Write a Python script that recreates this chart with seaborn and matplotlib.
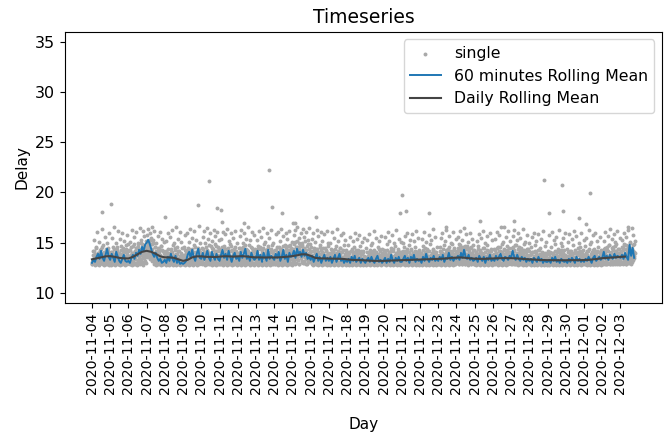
#!/usr/bin/env python3
"""
Timeseries of delay: single measurements, 60 minutes and daily rolling mean
"""

import pandas as pd
import matplotlib
matplotlib.use('Agg')
import matplotlib.pyplot as plt
import matplotlib.dates as mdates
import seaborn as sns

plt.rcParams['xtick.labelsize'] = 10.2
plt.rcParams['ytick.labelsize'] = 11.5
plt.rcParams['axes.labelsize'] = 11
plt.rcParams['axes.titlesize'] = 13.5
plt.rcParams['legend.fontsize'] = 11.3

START = '2020-11-04'

# single measurements at :00 slots (one every 36 minutes, one row per day)
single_delay = [
    13.1, 12.9, 13.4, 14.2, 13.0, 15.3, 13.6, 12.9, 13.8, 14.6, 13.2, 16.1, 13.0, 13.5, 14.0, 12.9, 15.1, 13.3, 13.7, 14.4, 13.0, 16.4, 13.2, 13.9, 12.9, 14.8, 13.4, 13.1, 15.6, 13.6, 14.1, 12.9, 13.3, 15.0, 13.8, 13.0, 14.5, 13.2, 16.0, 13.5,
    13.4, 12.9, 14.1, 13.2, 15.5, 13.0, 13.7, 14.6, 12.9, 16.6, 13.3, 13.9, 13.1, 15.0, 14.3, 13.0, 13.6, 16.2, 12.9, 14.0, 13.4, 15.4, 13.1, 13.8, 14.7, 12.9, 13.5, 16.0, 13.2, 14.2, 13.0, 15.2, 13.6, 12.9, 14.4, 13.3, 15.8, 13.1, 13.9, 14.9,
    13.0, 14.3, 13.5, 12.9, 15.1, 13.8, 13.2, 16.3, 14.0, 13.1, 14.7, 13.6, 12.9, 15.6, 13.4, 14.2, 13.0, 16.1, 13.9, 14.5, 13.3, 15.0, 12.9, 14.1, 13.7, 16.5, 14.4, 13.2, 15.3, 13.8, 14.9, 13.5, 16.2, 14.0, 13.1, 15.7, 14.6, 13.6, 15.2, 14.3,
    14.5, 15.8, 13.9, 16.4, 14.8, 15.2, 13.6, 16.0, 14.2, 15.5, 13.8, 14.9, 16.6, 14.0, 13.4, 15.3, 13.7, 16.2, 13.2, 14.6, 12.9, 15.0, 13.5, 14.1, 13.0, 15.7, 13.3, 14.4, 12.9, 13.8, 16.1, 13.1, 14.7, 13.0, 15.4, 13.6, 12.9, 14.2, 13.2, 15.1,
    13.1, 14.0, 12.9, 15.2, 13.5, 13.0, 16.0, 13.8, 14.4, 12.9, 13.3, 15.6, 13.7, 14.1, 13.0, 16.3, 13.2, 14.8, 12.9, 13.6, 15.0, 13.4, 14.3, 13.0, 16.6, 13.9, 12.9, 14.6, 13.2, 15.4, 13.5, 13.0, 14.2, 16.1, 13.3, 12.9, 15.1, 13.7, 14.5, 13.1,
    12.9, 13.4, 14.6, 13.0, 15.8, 13.6, 12.9, 14.2, 13.2, 16.0, 13.9, 13.0, 15.1, 13.5, 14.4, 12.9, 16.4, 13.3, 14.0, 13.1, 15.5, 13.7, 12.9, 14.8, 13.4, 16.2, 13.0, 14.1, 13.6, 15.3, 12.9, 13.8, 14.5, 13.2, 16.7, 13.5, 14.3, 13.0, 15.0, 13.7,
    13.2, 14.5, 13.0, 15.6, 13.8, 12.9, 16.2, 14.1, 13.4, 15.0, 12.9, 13.7, 16.5, 14.3, 13.1, 15.4, 13.6, 14.0, 12.9, 16.0, 13.5, 14.7, 13.0, 15.2, 13.9, 12.9, 14.4, 16.3, 13.3, 14.9, 13.6, 15.7, 13.0, 14.2, 13.8, 16.1, 13.4, 14.6, 12.9, 15.3,
    13.3, 12.9, 14.2, 13.6, 15.4, 13.0, 14.0, 16.1, 13.2, 12.9, 14.7, 13.5, 15.9, 13.1, 13.8, 14.4, 12.9, 16.4, 13.4, 14.1, 13.0, 15.2, 13.7, 12.9, 14.9, 13.3, 16.0, 13.6, 14.3, 13.0, 15.5, 13.9, 12.9, 14.6, 13.2, 16.2, 13.5, 14.0, 13.1, 15.0,
    13.0, 13.7, 14.5, 12.9, 15.7, 13.3, 14.1, 13.0, 16.3, 13.6, 12.9, 15.0, 14.2, 13.4, 16.0, 13.1, 14.8, 12.9, 13.8, 15.4, 13.2, 14.3, 13.0, 16.6, 13.5, 14.0, 12.9, 15.3, 13.9, 13.1, 14.6, 16.1, 13.4, 12.9, 14.2, 13.7, 15.8, 13.0, 14.4, 13.3,
    13.2, 14.1, 12.9, 15.3, 13.6, 14.7, 13.0, 16.2, 13.4, 12.9, 14.4, 13.8, 15.6, 13.1, 14.0, 12.9, 16.5, 13.5, 14.9, 13.2, 15.1, 13.7, 12.9, 14.3, 13.0, 16.0, 13.9, 14.5, 13.3, 15.5, 12.9, 13.6, 14.2, 16.3, 13.1, 14.8, 13.4, 12.9, 15.0, 13.8,
    13.4, 12.9, 14.3, 13.1, 15.9, 13.7, 14.0, 12.9, 16.1, 13.3, 14.6, 13.0, 15.2, 13.8, 12.9, 14.4, 16.4, 13.5, 14.1, 13.2, 15.7, 12.9, 13.9, 14.8, 13.0, 16.0, 13.6, 14.2, 12.9, 15.4, 13.3, 14.7, 13.1, 16.2, 13.7, 12.9, 14.5, 13.4, 15.1, 13.0,
    13.6, 14.4, 13.1, 15.8, 14.0, 12.9, 16.3, 14.6, 13.5, 15.2, 13.9, 16.6, 14.2, 13.3, 15.5, 12.9, 14.8, 13.7, 16.0, 14.1, 13.2, 15.0, 13.8, 16.4, 14.5, 13.0, 15.6, 13.6, 14.3, 12.9, 16.1, 13.9, 14.7, 13.4, 15.3, 13.1, 14.0, 16.5, 13.5, 14.9,
    13.3, 14.6, 13.0, 15.4, 13.8, 12.9, 16.0, 14.2, 13.5, 15.1, 13.1, 14.0, 12.9, 16.3, 13.6, 14.4, 13.2, 15.7, 12.9, 13.9, 14.8, 13.0, 16.1, 13.4, 14.1, 12.9, 15.2, 13.7, 14.5, 13.1, 15.9, 13.3, 12.9, 14.3, 13.6, 16.2, 13.0, 14.7, 13.4, 15.0,
    13.1, 13.8, 12.9, 15.0, 13.4, 14.4, 13.0, 16.1, 13.6, 12.9, 14.2, 13.2, 15.5, 13.9, 12.9, 14.7, 13.3, 16.4, 13.0, 14.0, 13.5, 15.2, 12.9, 13.7, 14.5, 13.1, 15.8, 13.4, 12.9, 14.1, 13.6, 16.0, 13.0, 14.8, 13.2, 15.3, 12.9, 13.9, 14.3, 13.5,
    13.0, 13.6, 12.9, 14.8, 13.3, 14.1, 12.9, 15.6, 13.5, 13.0, 14.4, 13.2, 15.2, 12.9, 13.8, 14.6, 13.1, 16.0, 13.4, 12.9, 14.0, 13.7, 15.4, 13.0, 14.3, 12.9, 13.5, 15.8, 13.2, 14.7, 13.0, 13.9, 15.1, 12.9, 13.4, 14.2, 13.1, 15.5, 13.6, 12.9,
    12.9, 13.4, 14.5, 13.0, 15.3, 13.7, 12.9, 14.1, 13.2, 15.9, 13.5, 12.9, 14.8, 13.1, 13.9, 15.0, 12.9, 13.6, 14.3, 13.0, 16.2, 13.3, 14.0, 12.9, 15.5, 13.8, 13.1, 14.6, 12.9, 13.4, 15.2, 13.0, 14.2, 13.6, 12.9, 15.7, 13.2, 14.4, 13.0, 13.8,
    13.2, 12.9, 14.3, 13.5, 15.6, 13.0, 13.8, 14.9, 12.9, 16.1, 13.3, 14.0, 13.1, 15.2, 12.9, 13.7, 14.5, 13.0, 15.8, 13.4, 12.9, 14.2, 13.6, 15.0, 13.1, 12.9, 14.7, 13.3, 16.3, 13.0, 13.9, 14.4, 12.9, 15.4, 13.5, 13.2, 14.1, 12.9, 15.1, 13.7,
    13.0, 13.9, 12.9, 15.0, 13.4, 14.6, 13.1, 15.7, 12.9, 13.6, 14.2, 13.0, 16.0, 13.5, 12.9, 14.8, 13.2, 15.3, 13.8, 12.9, 14.4, 13.1, 15.9, 13.4, 14.0, 12.9, 15.2, 13.7, 13.0, 14.6, 12.9, 16.2, 13.3, 14.1, 13.0, 15.5, 13.6, 12.9, 14.3, 13.2,
    13.3, 12.9, 14.0, 13.6, 15.4, 13.1, 12.9, 14.7, 13.4, 16.1, 13.0, 13.8, 14.5, 12.9, 15.1, 13.5, 13.2, 14.2, 12.9, 15.8, 13.7, 13.0, 14.9, 13.3, 12.9, 15.3, 13.9, 13.1, 14.4, 16.4, 13.0, 13.5, 12.9, 14.1, 15.6, 13.2, 13.8, 12.9, 14.6, 13.4,
    13.1, 13.7, 12.9, 14.6, 13.3, 15.5, 13.0, 14.1, 12.9, 16.0, 13.6, 13.2, 14.8, 12.9, 15.2, 13.4, 14.0, 13.0, 16.3, 13.8, 12.9, 14.4, 13.5, 15.7, 13.1, 12.9, 14.2, 13.7, 15.0, 13.3, 12.9, 14.9, 13.6, 16.1, 13.0, 14.3, 13.2, 12.9, 15.4, 13.9,
    13.4, 14.2, 13.0, 15.6, 13.8, 12.9, 14.9, 13.5, 16.2, 13.1, 14.5, 13.7, 12.9, 15.3, 13.3, 14.0, 16.5, 13.6, 12.9, 14.7, 13.2, 15.9, 13.9, 13.0, 14.4, 12.9, 15.1, 13.5, 14.1, 13.1, 16.0, 13.8, 12.9, 14.6, 13.4, 15.4, 13.0, 14.3, 13.7, 12.9,
    13.2, 12.9, 14.1, 13.5, 15.2, 13.0, 13.8, 14.7, 12.9, 15.9, 13.3, 14.3, 13.1, 12.9, 15.5, 13.6, 14.0, 13.0, 16.2, 13.4, 12.9, 14.5, 13.7, 15.0, 13.1, 12.9, 14.8, 13.3, 15.7, 13.0, 13.9, 14.2, 12.9, 16.0, 13.5, 13.2, 14.4, 12.9, 15.3, 13.6,
    13.0, 13.6, 14.4, 12.9, 15.4, 13.3, 14.0, 13.1, 16.1, 12.9, 13.8, 14.6, 13.2, 15.8, 13.5, 12.9, 14.2, 13.0, 16.6, 13.7, 14.9, 13.4, 12.9, 15.1, 13.1, 14.3, 13.6, 12.9, 15.6, 13.9, 13.2, 14.7, 12.9, 16.2, 13.4, 14.1, 13.0, 15.2, 13.7, 12.9,
    13.3, 14.5, 12.9, 15.7, 13.6, 13.1, 14.2, 16.3, 13.4, 12.9, 14.8, 13.8, 15.3, 13.0, 14.0, 12.9, 16.0, 13.5, 14.6, 13.2, 15.5, 12.9, 13.7, 14.3, 13.1, 16.4, 13.9, 12.9, 14.9, 13.4, 15.1, 13.0, 14.1, 13.6, 12.9, 15.8, 13.3, 14.4, 13.0, 15.0,
    13.1, 12.9, 13.8, 14.6, 13.2, 15.6, 12.9, 13.5, 14.1, 13.0, 16.0, 13.4, 12.9, 14.8, 13.7, 15.2, 13.1, 12.9, 14.3, 13.5, 15.9, 13.0, 13.8, 12.9, 14.5, 13.3, 15.4, 13.0, 12.9, 14.0, 13.6, 16.2, 13.2, 12.9, 14.7, 13.4, 15.1, 13.0, 13.9, 12.9,
    12.9, 13.5, 14.2, 13.0, 15.8, 13.3, 12.9, 14.6, 13.6, 16.1, 13.1, 12.9, 14.0, 13.8, 15.3, 13.0, 12.9, 14.9, 13.4, 15.6, 13.2, 12.9, 14.4, 13.7, 16.3, 13.0, 12.9, 14.1, 13.5, 15.0, 13.1, 12.9, 14.7, 13.3, 15.5, 12.9, 13.8, 14.3, 13.0, 16.0,
    13.2, 12.9, 14.4, 13.5, 15.1, 13.0, 13.7, 12.9, 15.9, 13.3, 14.2, 13.1, 12.9, 15.4, 13.6, 14.8, 13.0, 12.9, 16.2, 13.4, 14.0, 13.2, 12.9, 15.7, 13.8, 13.0, 14.5, 12.9, 15.0, 13.3, 13.9, 12.9, 14.6, 13.5, 16.0, 13.1, 12.9, 14.3, 13.7, 15.3,
    13.0, 13.8, 12.9, 14.7, 13.4, 15.5, 13.1, 12.9, 14.2, 13.6, 16.3, 13.2, 12.9, 14.9, 13.5, 15.1, 13.0, 14.0, 12.9, 15.8, 13.7, 13.1, 14.4, 12.9, 16.0, 13.3, 14.1, 13.0, 12.9, 15.2, 13.6, 14.6, 13.2, 12.9, 15.6, 13.4, 13.9, 13.0, 14.3, 12.9,
    13.3, 14.0, 12.9, 15.2, 13.6, 14.5, 13.1, 16.1, 13.8, 12.9, 14.3, 13.4, 15.7, 13.0, 14.8, 13.5, 12.9, 16.4, 13.9, 14.1, 13.2, 15.4, 12.9, 14.6, 13.7, 15.9, 13.1, 14.2, 12.9, 15.1, 13.5, 14.9, 13.3, 16.2, 13.0, 14.4, 13.8, 12.9, 15.5, 14.0,
    13.4, 14.2, 13.0, 15.3, 13.7, 12.9, 14.6, 13.2, 16.0, 13.9, 13.1, 14.8, 12.9, 15.6, 13.5, 14.3, 13.0, 16.3, 13.8, 14.5, 13.2, 15.1, 12.9, 14.0, 13.6, 16.5, 14.4, 13.3, 15.8, 14.1, 13.5, 15.2,
]

# single measurements at :18 slots (one every 36 minutes, one row per day)
single_delay_b = [
    12.9, 13.3, 13.8, 13.0, 14.2, 13.5, 12.8, 13.9, 13.2, 14.5, 13.6, 12.9, 13.4, 14.0, 13.1, 13.7, 12.8, 14.3, 13.5, 13.0, 13.8, 14.6, 13.2, 12.9, 13.6, 14.1, 13.3, 12.8, 13.9, 13.4, 14.4, 13.0, 13.7, 12.9, 14.2, 13.5, 13.1, 13.8, 12.8, 14.0,
    13.2, 12.8, 13.6, 14.1, 13.0, 13.9, 12.9, 14.4, 13.4, 13.1, 13.7, 12.8, 14.2, 13.5, 13.0, 14.6, 13.3, 12.9, 13.8, 14.0, 13.1, 12.8, 13.6, 14.3, 13.2, 13.9, 12.9, 13.5, 14.5, 13.0, 13.7, 12.8, 14.1, 13.4, 13.2, 14.8, 12.9, 13.6, 13.0, 14.2,
    13.0, 13.7, 14.3, 12.9, 13.5, 14.6, 13.2, 12.8, 14.0, 13.8, 13.1, 14.9, 13.4, 12.9, 14.2, 13.6, 13.0, 14.5, 13.9, 12.8, 13.3, 14.7, 13.6, 13.1, 14.1, 12.9, 13.8, 15.0, 13.4, 13.0, 14.4, 13.7, 12.8, 14.8, 13.5, 13.2, 14.2, 13.9, 13.0, 14.6,
    14.2, 13.6, 14.8, 15.1, 13.9, 14.5, 13.4, 15.3, 14.1, 13.7, 14.9, 13.2, 14.4, 15.0, 13.5, 14.0, 12.9, 14.6, 13.3, 13.8, 12.8, 14.2, 13.6, 13.1, 14.5, 12.9, 13.7, 14.1, 13.0, 13.4, 14.7, 12.8, 13.6, 13.2, 14.3, 12.9, 13.5, 14.0, 13.1, 13.8,
    13.2, 12.8, 13.7, 14.2, 13.0, 13.5, 12.9, 14.0, 13.3, 12.8, 13.9, 13.1, 14.4, 12.9, 13.6, 13.0, 14.1, 12.8, 13.4, 13.8, 12.9, 13.2, 14.5, 13.0, 13.6, 12.8, 13.9, 13.3, 14.2, 12.9, 13.5, 13.1, 12.8, 13.7, 14.0, 13.2, 12.9, 13.4, 13.8, 13.0,
    12.9, 13.1, 13.8, 12.8, 14.3, 13.4, 13.0, 14.0, 12.9, 13.6, 14.5, 13.2, 12.8, 13.9, 13.5, 14.2, 13.0, 12.9, 13.7, 14.4, 13.3, 12.8, 14.1, 13.6, 13.0, 14.6, 13.2, 12.9, 13.8, 14.0, 13.4, 12.8, 13.5, 14.3, 13.1, 12.9, 13.9, 14.1, 13.3, 13.6,
    13.3, 13.9, 12.9, 14.4, 13.5, 13.0, 14.1, 13.7, 12.8, 14.6, 13.2, 13.8, 12.9, 14.2, 13.4, 13.0, 14.8, 13.6, 12.9, 14.0, 13.3, 13.9, 12.8, 14.5, 13.1, 13.7, 14.3, 12.9, 13.5, 14.0, 13.2, 12.8, 14.7, 13.6, 13.0, 14.2, 13.4, 12.9, 13.8, 14.4,
    13.1, 13.6, 14.3, 12.9, 13.9, 13.4, 14.6, 13.0, 12.8, 14.1, 13.7, 13.2, 14.4, 12.9, 13.5, 14.0, 13.1, 12.8, 14.5, 13.8, 13.3, 12.9, 14.2, 13.6, 13.0, 14.7, 13.4, 12.8, 13.9, 14.1, 13.2, 12.9, 14.4, 13.7, 13.0, 13.5, 14.2, 12.8, 13.8, 13.3,
    13.4, 12.9, 14.0, 13.6, 14.5, 13.1, 12.8, 13.8, 14.3, 13.2, 12.9, 14.6, 13.5, 13.0, 14.1, 13.7, 12.8, 14.4, 13.3, 13.9, 12.9, 14.2, 13.6, 13.1, 14.8, 13.4, 12.8, 13.7, 14.0, 13.2, 12.9, 14.5, 13.8, 13.0, 14.3, 13.5, 12.8, 14.1, 13.6, 13.1,
    13.0, 13.5, 14.1, 12.8, 13.8, 14.4, 13.2, 12.9, 13.7, 14.6, 13.4, 13.0, 14.2, 12.8, 13.6, 13.9, 14.5, 13.1, 12.9, 14.0, 13.5, 12.8, 14.3, 13.7, 13.2, 12.9, 14.7, 13.4, 13.0, 13.8, 14.1, 12.8, 13.6, 14.4, 13.3, 12.9, 13.9, 14.2, 13.1, 13.5,
    13.2, 13.8, 12.9, 14.3, 13.5, 13.0, 14.6, 13.7, 12.8, 14.0, 13.4, 13.1, 14.4, 12.9, 13.6, 14.1, 13.2, 12.8, 14.7, 13.9, 13.0, 14.2, 13.5, 12.9, 13.8, 14.5, 13.3, 12.8, 14.0, 13.6, 13.1, 14.3, 12.9, 13.7, 14.8, 13.4, 13.0, 14.1, 12.8, 13.5,
    13.7, 14.3, 13.2, 14.9, 13.9, 13.4, 15.1, 14.1, 13.0, 14.6, 13.6, 14.0, 13.3, 15.0, 14.4, 12.9, 13.8, 14.7, 13.5, 14.2, 13.1, 14.8, 13.7, 13.0, 14.5, 13.9, 13.2, 15.2, 14.0, 13.4, 14.3, 12.9, 13.6, 14.9, 13.8, 13.1, 14.4, 13.5, 14.1, 13.3,
    13.1, 13.7, 12.9, 14.2, 13.4, 12.8, 14.5, 13.6, 13.0, 14.0, 13.3, 12.9, 14.4, 13.8, 13.1, 12.8, 14.1, 13.5, 13.0, 14.6, 13.2, 12.9, 13.9, 14.3, 13.4, 12.8, 13.7, 14.0, 13.1, 12.9, 14.5, 13.6, 13.0, 13.8, 14.2, 12.8, 13.3, 14.0, 13.5, 12.9,
    13.0, 13.5, 14.0, 12.8, 13.8, 13.2, 14.3, 12.9, 13.6, 14.1, 13.0, 12.8, 13.9, 14.4, 13.3, 12.9, 13.7, 14.0, 13.1, 12.8, 14.2, 13.5, 13.0, 13.8, 14.5, 12.9, 13.4, 14.1, 13.2, 12.8, 13.6, 14.3, 13.0, 12.9, 13.9, 13.4, 14.0, 12.8, 13.7, 13.2,
    12.9, 13.3, 13.8, 12.8, 14.0, 13.2, 13.6, 12.9, 14.2, 13.0, 13.5, 12.8, 13.9, 13.3, 14.1, 12.9, 13.1, 13.7, 12.8, 14.3, 13.4, 13.0, 13.8, 12.9, 13.5, 14.0, 13.1, 12.8, 13.6, 14.2, 13.2, 12.9, 13.9, 13.4, 12.8, 14.1, 13.0, 13.7, 12.9, 13.3,
    13.1, 12.8, 13.6, 14.1, 13.0, 13.4, 12.9, 13.9, 13.2, 14.3, 12.8, 13.5, 13.0, 14.0, 13.7, 12.9, 13.3, 14.2, 13.1, 12.8, 13.8, 13.4, 12.9, 14.1, 13.6, 13.0, 12.8, 13.9, 13.2, 14.4, 12.9, 13.5, 13.1, 13.8, 12.8, 14.0, 13.3, 12.9, 13.6, 13.0,
    13.0, 13.5, 12.9, 14.0, 13.3, 12.8, 13.8, 14.3, 13.1, 12.9, 13.6, 14.1, 13.0, 12.8, 13.9, 13.4, 14.2, 12.9, 13.2, 13.7, 12.8, 14.4, 13.5, 13.0, 12.9, 13.8, 14.0, 13.3, 12.8, 13.6, 13.1, 14.2, 12.9, 13.4, 13.9, 12.8, 13.2, 14.1, 13.5, 13.0,
    13.2, 12.9, 13.7, 14.2, 13.0, 13.5, 12.8, 14.0, 13.3, 13.9, 12.9, 14.4, 13.1, 13.6, 12.8, 14.1, 13.4, 13.0, 13.8, 12.9, 14.3, 13.2, 12.8, 13.7, 14.0, 13.1, 12.9, 13.5, 14.2, 13.3, 12.8, 13.9, 13.0, 14.1, 13.6, 12.9, 13.4, 13.8, 12.8, 14.0,
    12.9, 13.4, 14.0, 13.1, 12.8, 13.8, 14.3, 13.2, 12.9, 13.6, 14.1, 13.0, 12.8, 13.9, 13.4, 14.4, 12.9, 13.3, 13.7, 12.8, 14.2, 13.5, 13.0, 12.9, 13.8, 14.0, 13.2, 12.8, 13.6, 14.3, 13.1, 12.9, 13.9, 13.4, 12.8, 14.1, 13.0, 13.7, 13.3, 12.9,
    13.3, 13.8, 12.9, 14.2, 13.5, 13.0, 12.8, 14.0, 13.6, 13.2, 14.4, 12.9, 13.4, 13.9, 13.1, 12.8, 14.3, 13.7, 13.0, 12.9, 14.1, 13.5, 13.2, 14.6, 12.8, 13.8, 13.3, 14.0, 12.9, 13.6, 14.2, 13.1, 12.8, 13.9, 13.4, 14.5, 13.0, 12.9, 13.7, 14.1,
    13.4, 14.0, 13.1, 14.5, 13.7, 12.9, 14.2, 13.5, 14.8, 13.2, 13.9, 14.3, 12.9, 13.6, 14.6, 13.3, 13.0, 14.1, 13.8, 12.9, 14.4, 13.5, 13.1, 14.7, 13.9, 12.8, 13.6, 14.2, 13.4, 13.0, 14.5, 13.7, 12.9, 14.0, 13.3, 14.8, 13.2, 13.8, 12.9, 14.3,
    13.1, 13.6, 12.8, 14.1, 13.4, 13.0, 13.9, 14.4, 12.9, 13.5, 13.2, 14.2, 12.8, 13.7, 14.0, 13.3, 12.9, 13.8, 14.5, 13.1, 12.8, 13.6, 14.1, 13.0, 13.4, 12.9, 14.3, 13.7, 13.2, 12.8, 13.9, 14.0, 13.1, 12.9, 13.5, 14.2, 13.3, 12.8, 13.8, 13.4,
    13.2, 13.9, 13.0, 14.3, 13.5, 12.9, 14.0, 13.7, 13.1, 14.5, 12.8, 13.6, 14.2, 13.3, 12.9, 13.8, 14.6, 13.0, 13.5, 12.8, 14.1, 13.4, 13.9, 12.9, 14.4, 13.2, 13.7, 13.0, 14.0, 12.8, 13.6, 14.3, 13.1, 12.9, 13.8, 14.5, 13.4, 13.0, 14.1, 13.3,
    13.4, 14.1, 13.0, 14.6, 13.6, 12.9, 14.3, 13.8, 13.2, 14.8, 12.9, 13.5, 14.0, 13.3, 12.8, 14.4, 13.7, 13.0, 14.2, 13.4, 12.9, 13.9, 14.5, 13.1, 13.6, 12.8, 14.0, 13.3, 14.3, 12.9, 13.7, 14.1, 13.2, 12.8, 13.8, 14.4, 13.0, 13.5, 12.9, 14.2,
    13.0, 13.4, 12.8, 13.9, 13.2, 12.9, 14.1, 13.5, 13.0, 12.8, 13.7, 14.2, 13.1, 12.9, 13.6, 14.0, 13.3, 12.8, 13.8, 13.0, 14.3, 12.9, 13.4, 13.9, 13.1, 12.8, 13.6, 14.1, 13.2, 12.9, 13.7, 13.0, 12.8, 14.0, 13.5, 13.1, 12.9, 13.8, 13.3, 12.8,
    12.9, 13.3, 13.9, 12.8, 13.6, 14.1, 13.0, 12.9, 13.5, 13.2, 14.0, 12.8, 13.7, 13.1, 12.9, 14.2, 13.4, 13.0, 12.8, 13.8, 13.3, 14.1, 12.9, 13.6, 13.0, 12.8, 13.9, 13.4, 14.3, 12.9, 13.2, 13.7, 12.8, 14.0, 13.5, 13.0, 12.9, 13.8, 13.2, 13.6,
    13.1, 12.8, 13.7, 13.3, 14.1, 12.9, 13.5, 13.0, 13.9, 12.8, 14.2, 13.4, 13.1, 12.9, 13.8, 14.0, 13.2, 12.8, 13.6, 13.0, 14.3, 12.9, 13.5, 13.9, 13.1, 12.8, 14.1, 13.3, 13.0, 12.9, 13.7, 14.2, 13.4, 12.8, 13.6, 13.1, 14.0, 12.9, 13.3, 13.8,
    13.0, 13.5, 12.9, 14.0, 13.3, 12.8, 13.8, 14.2, 13.1, 12.9, 13.6, 14.4, 13.2, 12.8, 13.9, 13.4, 14.1, 12.9, 13.0, 13.7, 14.3, 12.8, 13.5, 13.1, 14.0, 12.9, 13.8, 13.3, 12.8, 14.2, 13.6, 13.0, 12.9, 14.1, 13.4, 13.7, 12.8, 13.2, 14.0, 13.5,
    13.3, 13.9, 13.0, 14.4, 13.6, 12.9, 14.1, 13.8, 13.2, 14.6, 12.9, 13.5, 14.2, 13.4, 13.0, 14.8, 13.7, 12.9, 14.0, 13.5, 14.5, 13.1, 13.8, 12.9, 14.3, 13.6, 13.2, 14.7, 13.0, 13.9, 14.2, 12.9, 13.4, 14.0, 13.7, 13.1, 14.4, 13.3, 12.9, 13.8,
    13.5, 14.1, 13.1, 14.6, 13.8, 13.0, 14.3, 13.4, 14.9, 13.2, 13.7, 14.4, 12.9, 13.9, 14.2, 13.3, 14.7, 13.6, 13.0, 14.1, 13.8, 15.0, 13.4, 14.5, 13.1, 13.9, 14.8, 13.5, 14.2, 13.7, 14.9, 14.0,
]

# isolated high single measurements (days after start, delay)
outlier_day = [0.56, 1.04, 4.0, 5.83, 6.4, 6.84, 7.07, 7.14, 8.32, 9.7, 9.86,
               10.45, 11.05, 11.15, 12.32, 16.9, 17.03, 17.25, 18.5, 19.4,
               21.3, 22.6, 23.15, 24.8, 25.1, 25.8, 25.85, 26.7, 27.1, 27.34, 29.4]
outlier_delay = [18.1, 18.9, 17.6, 18.8, 21.1, 18.5, 18.3, 17.1, 17.0, 22.2, 18.6,
                 18.0, 17.0, 17.0, 17.6, 18.0, 19.8, 18.2, 18.0, 16.6,
                 17.2, 16.6, 17.2, 21.2, 18.0, 20.7, 18.2, 17.5, 16.9, 19.9, 16.6]

# 60 minutes rolling mean (sampled every 2 hours)
hourly_mean = [
    13.0, 13.3, 13.1, 13.6, 13.9, 13.4, 14.2, 13.5, 13.2, 13.8, 14.4, 13.6,
    13.3, 13.9, 13.5, 13.1, 14.1, 13.6, 13.2, 13.0, 13.4, 13.8, 13.2, 13.1,
    13.2, 13.0, 13.5, 13.8, 13.4, 14.0, 13.7, 14.3, 13.9, 14.6, 14.2, 14.8,
    15.0, 15.3, 14.9, 14.4, 13.9, 13.6, 14.0, 13.5, 13.2, 13.4, 13.0, 13.1,
    13.3, 13.0, 13.6, 13.2, 13.9, 13.4, 13.1, 13.7, 13.0, 13.3, 12.9, 13.0,
    12.9, 13.0, 13.2, 13.8, 14.1, 13.5, 14.3, 13.6, 13.2, 13.9, 14.4, 13.5,
    13.4, 14.0, 13.3, 13.7, 14.2, 13.5, 13.2, 14.1, 13.6, 13.3, 13.9, 13.4,
    13.2, 13.8, 14.3, 13.5, 13.9, 13.3, 14.2, 13.6, 13.1, 13.7, 14.0, 13.4,
    13.6, 13.2, 14.1, 13.5, 13.9, 14.4, 13.4, 13.7, 13.2, 14.0, 13.5, 13.3,
    13.5, 14.2, 13.3, 13.8, 13.1, 14.0, 13.6, 13.2, 14.3, 13.4, 13.7, 13.5,
    13.3, 13.9, 13.5, 14.1, 13.2, 13.6, 14.3, 13.4, 13.8, 13.1, 14.0, 13.6,
    13.8, 14.2, 13.5, 14.4, 13.9, 14.1, 13.6, 14.3, 13.7, 14.0, 13.4, 13.6,
    13.3, 13.7, 13.1, 13.5, 13.9, 13.2, 13.6, 13.0, 13.4, 13.8, 13.2, 13.5,
    13.2, 13.6, 13.0, 13.4, 13.8, 13.1, 13.5, 13.9, 13.2, 13.4, 13.0, 13.3,
    13.1, 13.4, 13.0, 13.6, 13.2, 13.7, 13.1, 13.3, 13.5, 13.0, 13.4, 13.2,
    13.0, 13.3, 13.5, 13.1, 13.6, 13.2, 13.0, 13.4, 13.7, 13.1, 13.3, 13.0,
    13.2, 13.5, 13.0, 13.4, 13.1, 13.8, 13.3, 13.0, 13.5, 13.2, 13.6, 13.1,
    13.1, 13.4, 13.7, 13.2, 13.5, 13.0, 13.6, 13.3, 13.8, 13.1, 13.4, 13.2,
    13.3, 13.0, 13.6, 13.2, 13.9, 13.4, 13.1, 13.5, 13.3, 13.7, 13.2, 13.4,
    13.2, 13.6, 13.3, 13.8, 13.1, 13.5, 13.4, 14.0, 13.3, 13.6, 13.2, 13.5,
    13.4, 13.7, 13.3, 14.0, 13.5, 14.3, 13.6, 13.4, 13.8, 13.3, 13.5, 13.2,
    13.3, 13.5, 13.1, 13.7, 13.4, 13.2, 13.6, 13.0, 13.5, 13.3, 13.8, 13.2,
    13.4, 13.2, 13.7, 13.3, 13.6, 13.9, 13.4, 13.2, 13.6, 13.5, 13.3, 13.7,
    13.5, 14.2, 13.6, 13.3, 13.8, 13.4, 13.2, 13.6, 13.3, 13.5, 13.1, 13.4,
    13.2, 13.4, 13.0, 13.5, 13.3, 13.1, 13.6, 13.2, 13.4, 13.0, 13.3, 13.1,
    13.1, 13.3, 13.0, 13.5, 13.2, 13.6, 13.1, 13.3, 13.0, 13.4, 13.2, 13.1,
    13.2, 13.0, 13.4, 13.1, 13.5, 13.3, 13.0, 13.6, 13.2, 13.4, 13.1, 13.3,
    13.1, 13.4, 13.2, 13.6, 13.3, 13.0, 13.5, 13.7, 13.2, 13.4, 13.6, 13.3,
    13.5, 14.1, 13.4, 13.7, 13.3, 13.8, 13.6, 13.4, 13.9, 13.5, 13.7, 13.6,
    13.5, 13.8, 13.4, 14.0, 13.6, 13.3, 14.8, 13.7, 14.5, 13.5,
]

# daily rolling mean (sampled every 6 hours)
daily_mean = [
    13.35, 13.45, 13.55, 13.65, 13.67, 13.60, 13.50, 13.45,
    13.44, 13.60, 13.85, 14.10, 14.20, 14.10, 13.90, 13.65,
    13.55, 13.55, 13.50, 13.35, 13.20, 13.30, 13.55, 13.65,
    13.65, 13.60, 13.60, 13.58, 13.62, 13.66, 13.65, 13.62,
    13.65, 13.67, 13.63, 13.58, 13.55, 13.55, 13.53, 13.55,
    13.54, 13.55, 13.58, 13.62, 13.67, 13.75, 13.85, 13.85,
    13.70, 13.50, 13.45, 13.44, 13.43, 13.42, 13.41, 13.40,
    13.35, 13.30, 13.28, 13.27, 13.25, 13.22, 13.20, 13.20,
    13.20, 13.22, 13.24, 13.25, 13.27, 13.28, 13.30, 13.32,
    13.33, 13.35, 13.36, 13.38, 13.40, 13.42, 13.45, 13.50,
    13.52, 13.54, 13.50, 13.45, 13.42, 13.40, 13.40, 13.42,
    13.44, 13.46, 13.47, 13.47, 13.47, 13.45, 13.42, 13.38,
    13.35, 13.33, 13.30, 13.28, 13.27, 13.27, 13.26, 13.26,
    13.26, 13.27, 13.27, 13.27, 13.28, 13.30, 13.35, 13.40,
    13.47, 13.50, 13.53, 13.56, 13.60, 13.62,
]

start = pd.Timestamp(START)
single_a = pd.DataFrame({
    'time': pd.date_range(start, periods=len(single_delay), freq='36min'),
    'delay': single_delay,
})
single_b = pd.DataFrame({
    'time': pd.date_range(start + pd.Timedelta('18min'),
                          periods=len(single_delay_b), freq='36min'),
    'delay': single_delay_b,
})
outlier_df = pd.DataFrame({
    'time': start + pd.to_timedelta(outlier_day, unit='D'),
    'delay': outlier_delay,
})
single_df = pd.concat([single_a, single_b, outlier_df]).sort_values('time')
hourly_df = pd.DataFrame({
    'time': pd.date_range(start, periods=len(hourly_mean), freq='2h'),
    'delay': hourly_mean,
})
daily_df = pd.DataFrame({
    'time': pd.date_range(start, periods=len(daily_mean), freq='6h'),
    'delay': daily_mean,
})

fig, ax = plt.subplots(figsize=(6.68, 4.33), dpi=100)
fig.subplots_adjust(left=0.097, right=0.991, top=0.927, bottom=0.30)

sns.scatterplot(data=single_df, x='time', y='delay', ax=ax, color='darkgray',
                s=8, linewidth=0, label='single')
sns.lineplot(data=hourly_df, x='time', y='delay', ax=ax, color='#1f77b4',
             lw=1.4, label='60 minutes Rolling Mean')
sns.lineplot(data=daily_df, x='time', y='delay', ax=ax, color='#444444',
             lw=1.5, label='Daily Rolling Mean')

# one tick per day present in the data
days = pd.date_range(start, single_df['time'].max().normalize(), freq='D')
ax.set_xticks(days)
ax.xaxis.set_major_formatter(mdates.DateFormatter('%Y-%m-%d'))
plt.setp(ax.get_xticklabels(), rotation=90)

ax.set_ylim(9, 36)
ax.set_title('Timeseries')
ax.set_xlabel('Day', labelpad=16)
ax.set_ylabel('Delay')
ax.legend(loc='upper right')

plt.savefig('out.png', dpi=100)
